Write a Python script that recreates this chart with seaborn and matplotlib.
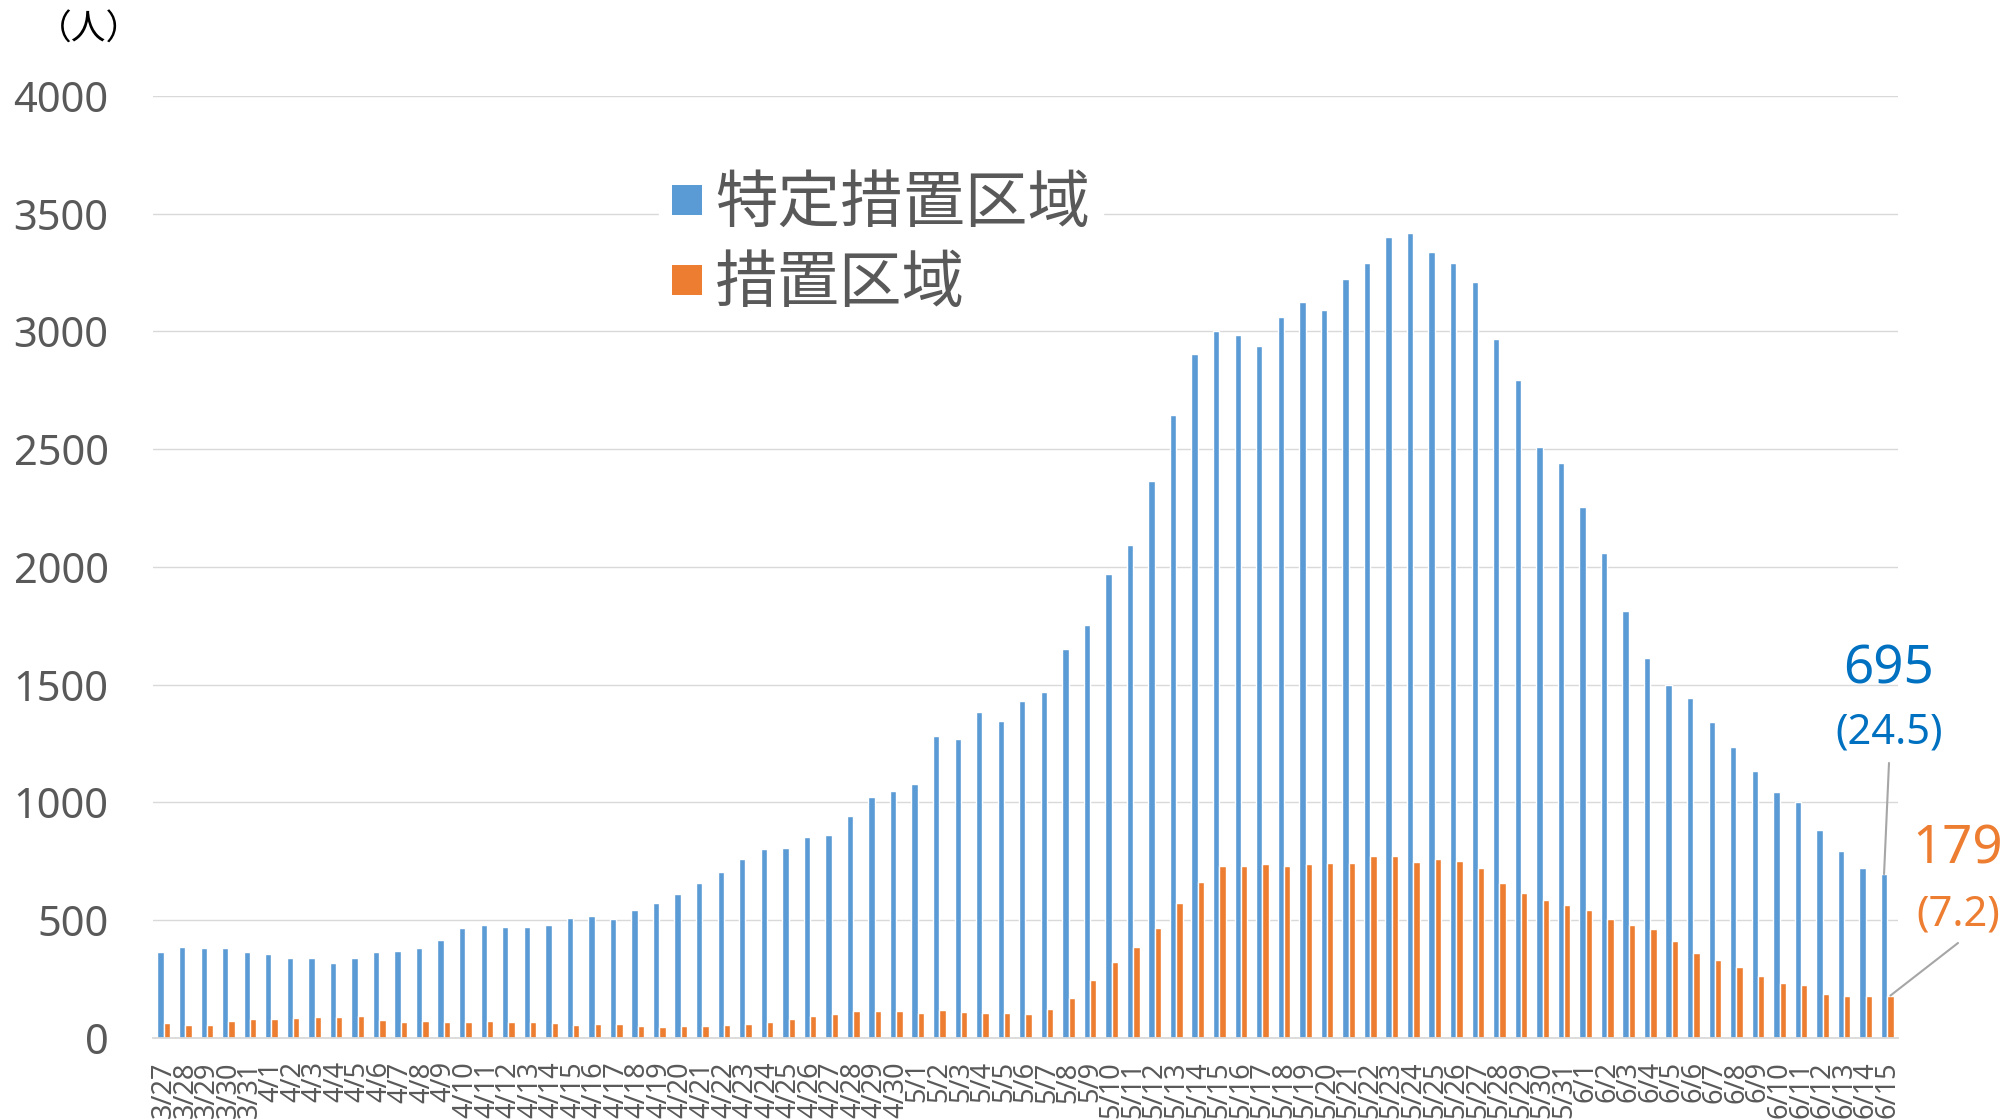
import numpy as np
import pandas as pd
import matplotlib
matplotlib.use('Agg')
import matplotlib.pyplot as plt
from matplotlib.lines import Line2D
import seaborn as sns

# daily counts, 3/27 - 6/15
dates = [f'{d.month}/{d.day}' for d in pd.date_range('2021-03-27', '2021-06-15')]

special = [366, 386, 382, 379, 365,
           356, 340, 340, 319, 340, 362, 370, 383, 415, 467, 479, 469, 469, 477, 507, 516,
           506, 543, 571, 611, 659, 705, 760, 803, 805, 851, 861, 940, 1021, 1049,
           1076, 1283, 1268, 1385, 1347,
           1429, 1469, 1649, 1753, 1969, 2093, 2364, 2647, 2904, 3002, 2984, 2940, 3060,
           3124, 3093, 3224, 3291, 3400,
           3418, 3336, 3291, 3209, 2966, 2795, 2507, 2442,
           2255, 2058, 1813, 1611, 1498, 1444, 1340, 1235, 1131, 1044, 1000, 882, 793, 722, 695]

regular = [61, 54, 54, 71, 81,
           80, 84, 88, 88, 93, 77, 66, 73, 68, 67, 71, 68, 66, 61, 53, 58,
           58, 50, 44, 50, 50, 54, 58, 68, 78, 92, 101, 113, 113, 113,
           106, 118, 108, 104, 105,
           102, 124, 167, 247, 322, 387, 464, 573, 662, 729, 731, 738, 729,
           738, 740, 740, 771, 773,
           747, 758, 749, 720, 655, 613, 584, 562,
           542, 504, 478, 462, 409, 358, 331, 302, 264, 233, 222, 187, 176, 177, 179]

latest_rates = ['24.5', '7.2']

series_names = ['特定措置区域', '措置区域']
colors = ['#5B9BD5', '#ED7D31']
label_colors = ['#0070C0', '#ED7D31']
grey = '#595959'
grid_grey = '#D9D9D9'

sns.set_style('white')
plt.rcParams['font.family'] = ['Noto Sans', 'Noto Sans CJK JP', 'DejaVu Sans']

df = pd.DataFrame({
    'date': dates * 2,
    'series': [series_names[0]] * len(dates) + [series_names[1]] * len(dates),
    'value': special + regular,
})

W, H = 2005, 1120
fig = plt.figure(figsize=(W / 100, H / 100), dpi=100)
ax = fig.add_axes([153 / W, (H - 1037.7) / H, (1898 - 153) / W, (1037.7 - 96) / H])

sns.barplot(data=df, x='date', y='value', hue='series', order=dates,
            hue_order=series_names, palette=colors, width=0.59, saturation=1,
            errorbar=None, legend=False, ax=ax)

ax.set_ylim(0, 4000)
ax.set_yticks(range(0, 4001, 500))
ax.set_xlabel('')
ax.set_ylabel('')
ax.yaxis.grid(True, color=grid_grey, lw=1.0)
ax.set_axisbelow(True)
for s in ['left', 'top', 'right']:
    ax.spines[s].set_visible(False)
ax.spines['bottom'].set_color(grid_grey)
ax.spines['bottom'].set_linewidth(1.3)

ax.set_xticks(np.arange(-0.5, len(dates) + 0.5, 1), minor=True)
ax.tick_params(axis='x', which='major', length=0, pad=17, labelsize=19.5,
               labelcolor=grey, labelrotation=90)
ax.tick_params(axis='x', which='minor', length=7, width=1.2, color=grid_grey)
ax.tick_params(axis='y', length=0, pad=32, labelsize=30, labelcolor=grey)

fig.text(89 / W, 1 - 30 / H, '（人）', ha='center', va='center', fontsize=25,
         color='black', family=['Noto Sans CJK JP'])

# legend
handles = [Line2D([0], [0], marker='s', ls='None', markersize=21,
                  markerfacecolor=c, markeredgewidth=0) for c in colors]
fig.legend(handles, series_names, loc='center left',
           bbox_to_anchor=(659 / W, 1 - 244 / H), frameon=True, facecolor='white',
           edgecolor='white', framealpha=1, fancybox=False, borderpad=0.2,
           handlelength=0.5, handletextpad=0.2, labelspacing=0.25, borderaxespad=0,
           prop={'family': ['Noto Sans CJK JP'], 'size': 45}, labelcolor=grey)

# latest-day callouts
last_values = [special[-1], regular[-1]]
text_pos = [(1889, 683, 744, 763), (1958, 863, 926, 943)]
for i, (val, rate) in enumerate(zip(last_values, latest_rates)):
    bar = ax.containers[i][-1]
    bx = bar.get_x() + bar.get_width() / 2
    tx, y_num, y_rate, y_line = text_pos[i]
    ax.annotate('', xy=(bx, bar.get_height()), xycoords='data',
                xytext=(tx, H - y_line), textcoords='figure pixels',
                arrowprops=dict(arrowstyle='-', color='#A6A6A6', lw=1.5,
                                shrinkA=0, shrinkB=0),
                annotation_clip=False)
    fig.text(tx / W, 1 - y_num / H, str(val), ha='center', va='baseline',
             fontsize=38, color=label_colors[i])
    fig.text(tx / W, 1 - y_rate / H, f'({rate})', ha='center', va='baseline',
             fontsize=30, color=label_colors[i])

fig.savefig('out.png', dpi=100)
